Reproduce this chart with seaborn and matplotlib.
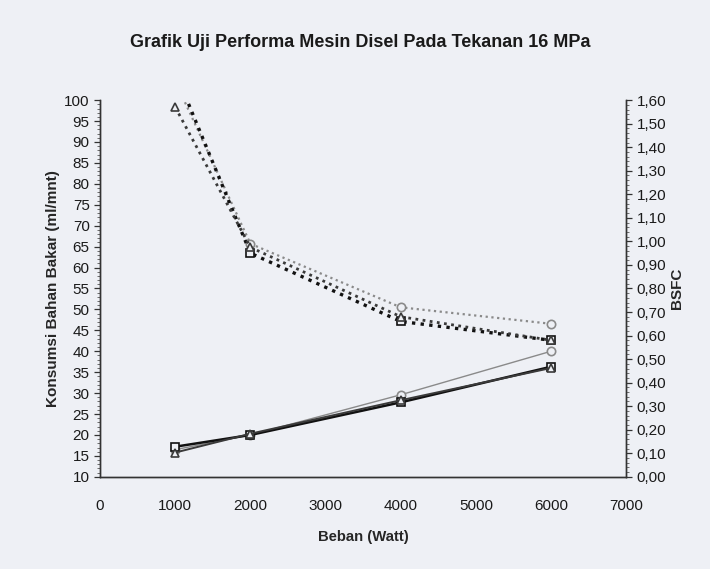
import seaborn as sns
import matplotlib.pyplot as plt
import pandas as pd
from matplotlib.ticker import MultipleLocator, FuncFormatter

sns.set_theme(style="white")
plt.rcParams['font.family'] = ['Liberation Sans', 'DejaVu Sans']

bg = "#eef0f5"

beban = [1000, 2000, 4000, 6000]
seri = ["Seri 1", "Seri 2", "Seri 3"]
konsumsi_1 = [16.5, 20.0, 29.6, 40.0]
konsumsi_2 = [17.2, 20.0, 27.8, 36.3]
konsumsi_3 = [15.8, 20.3, 28.3, 36.0]
bsfc_1 = [1.68, 0.99, 0.72, 0.65]
bsfc_2 = [1.72, 0.95, 0.66, 0.58]
bsfc_3 = [1.57, 0.975, 0.68, 0.58]

konsumsi = [konsumsi_1, konsumsi_2, konsumsi_3]
bsfc = [bsfc_1, bsfc_2, bsfc_3]
warna = ["#8a8a8a", "#111111", "#3a3a3a"]
penanda = ["o", "s", "^"]
tebal = [1.0, 1.8, 1.4]

fig = plt.figure(figsize=(7.10, 5.69), dpi=100, facecolor=bg)
ax = fig.add_axes([0.141, 0.162, 0.741, 0.662], facecolor=bg)
ax2 = ax.twinx()

for i, nama in enumerate(seri):
    df = pd.DataFrame({"Beban": beban, "Konsumsi": konsumsi[i], "BSFC": bsfc[i]})
    sns.lineplot(data=df, x="Beban", y="Konsumsi", ax=ax, color=warna[i],
                 marker=penanda[i], markersize=6, markerfacecolor=bg,
                 markeredgecolor=warna[i], markeredgewidth=1.2, linewidth=tebal[i])
    sns.lineplot(data=df, x="Beban", y="BSFC", ax=ax2, color=warna[i],
                 marker=penanda[i], markersize=6, markerfacecolor=bg,
                 markeredgecolor=warna[i], markeredgewidth=1.2,
                 linewidth=tebal[i] + 0.6, linestyle=(0, (1, 1.6)))

ax.set_xlim(0, 7000)
ax.set_ylim(10, 100)
ax2.set_ylim(0, 1.6)
ax.xaxis.set_major_locator(MultipleLocator(1000))
ax.yaxis.set_major_locator(MultipleLocator(5))
ax.yaxis.set_minor_locator(MultipleLocator(1))
ax2.yaxis.set_major_locator(MultipleLocator(0.1))
ax2.yaxis.set_minor_locator(MultipleLocator(0.02))
ax2.yaxis.set_major_formatter(FuncFormatter(lambda v, p: f"{v:.2f}".replace(".", ",")))

for a in (ax, ax2):
    a.spines["top"].set_visible(False)
    for s in ("left", "right", "bottom"):
        a.spines[s].set_color("#333333")
        a.spines[s].set_linewidth(1.0)
    a.tick_params(which="major", direction="out", length=4, width=0.9,
                  color="#333333", labelsize=11, labelcolor="#1a1a1a")
    a.tick_params(which="minor", direction="out", length=2, width=0.6, color="#555555")
    a.grid(False)
ax.tick_params(axis="x", pad=12)
ax.tick_params(axis="y", left=True, which="both")
ax2.tick_params(axis="y", right=True, which="both")

ax.set_xlabel("Beban (Watt)", fontsize=10.7, fontweight="bold", labelpad=12)
ax.set_ylabel("Konsumsi Bahan Bakar (ml/mnt)", fontsize=11, fontweight="bold", labelpad=3)
ax2.set_ylabel("BSFC", fontsize=11, fontweight="bold", labelpad=3)
fig.text(0.508, 0.926, "Grafik Uji Performa Mesin Disel Pada Tekanan 16 MPa",
         ha="center", va="center", fontsize=13, fontweight="bold", color="#1a1a1a")

fig.savefig("out.png", dpi=100, facecolor=bg)
